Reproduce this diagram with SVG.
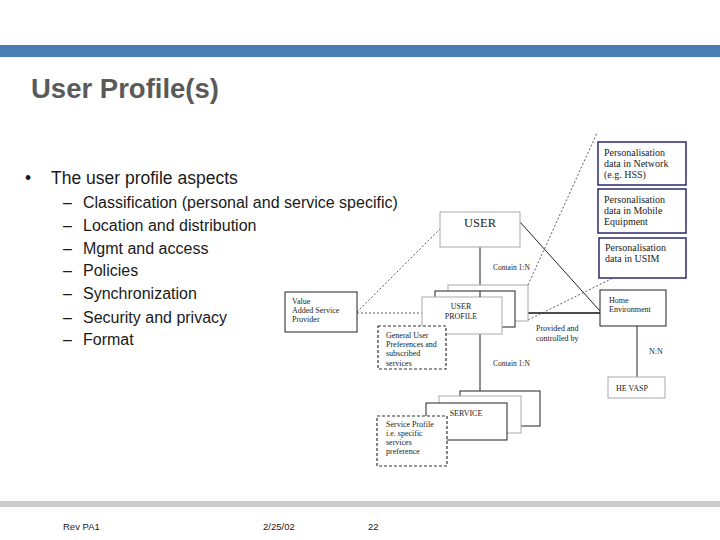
<svg xmlns="http://www.w3.org/2000/svg" width="720" height="540" viewBox="0 0 720 540">
<style>
.t{font-family:"Liberation Sans",Arial,sans-serif;fill:#1a1a1a}
.s{font-family:"Liberation Serif","Times New Roman",serif;fill:#222;font-size:8px}
.p{font-family:"Liberation Serif","Times New Roman",serif;fill:#222;font-size:10px}
.u{font-family:"Liberation Serif","Times New Roman",serif;fill:#222;font-size:12.5px}
.c{font-family:"Liberation Serif","Times New Roman",serif;fill:#222;font-size:7.5px}
.box{fill:#fff;stroke:#222;stroke-width:1}
.lbox{fill:#fff;stroke:#aaa;stroke-width:1}
.nbox{fill:#fff;stroke:#2a2a6e;stroke-width:1.5}
.dash{fill:#fff;stroke:#333;stroke-width:1.2;stroke-dasharray:3 2}
.dl{fill:none;stroke:#333;stroke-width:0.8;stroke-dasharray:2 2}
.sl{fill:none;stroke:#222;stroke-width:1}
</style>
<rect x="0" y="0" width="720" height="540" fill="#fff"/>
<rect x="0" y="45" width="720" height="12" fill="#4a7fb6"/>
<rect x="0" y="501" width="720" height="6" fill="#cccccc"/>
<text x="31" y="98" font-family="Liberation Sans,Arial,sans-serif" font-size="27.5" font-weight="bold" fill="#5a5a5a">User Profile(s)</text>
<g class="t" font-size="17.5">
<text x="25" y="184">•</text>
<text x="51" y="184">The user profile aspects</text>
</g>
<g class="t" font-size="16">
<text x="63" y="208">–</text><text x="83" y="208">Classification (personal and service specific)</text>
<text x="63" y="231">–</text><text x="83" y="231">Location and distribution</text>
<text x="63" y="254">–</text><text x="83" y="254">Mgmt and access</text>
<text x="63" y="276">–</text><text x="83" y="276">Policies</text>
<text x="63" y="299">–</text><text x="83" y="299">Synchronization</text>
<text x="63" y="323">–</text><text x="83" y="323">Security and privacy</text>
<text x="63" y="345">–</text><text x="83" y="345">Format</text>
</g>
<g class="t" font-size="9.5">
<text x="63" y="530">Rev PA1</text>
<text x="263" y="530">2/25/02</text>
<text x="368" y="530">22</text>
</g>
<g id="connectors">
<line class="sl" x1="480" y1="247" x2="480" y2="391"/>
<line class="sl" x1="520" y1="222" x2="600" y2="311"/>
<line x1="502" y1="313" x2="600" y2="313" stroke="#111" stroke-width="1.6"/>
<line class="sl" x1="637" y1="326" x2="637" y2="377"/>
<line class="dl" x1="357" y1="312" x2="443" y2="226"/>
<line class="dl" x1="357" y1="313" x2="422" y2="313"/>
<line class="dl" x1="528" y1="285" x2="597" y2="133"/>
<line class="dl" x1="528" y1="320" x2="613" y2="278"/>
<text class="c" x="493" y="270">Contain 1:N</text>
<text class="c" x="493" y="366">Contain 1:N</text>
<text class="s" x="536" y="331">Provided and</text>
<text class="s" x="536" y="341">controlled by</text>
<text class="s" x="649" y="354">N:N</text>
</g>
<g id="pers-network">
<rect class="nbox" x="598" y="142" width="88" height="43"/>
<text class="p" x="604" y="156">Personalisation</text>
<text class="p" x="604" y="167">data in Network</text>
<text class="p" x="604" y="178">(e.g. HSS)</text>
</g>
<g id="pers-me">
<rect class="nbox" x="598" y="189" width="88" height="44"/>
<text class="p" x="604" y="203">Personalisation</text>
<text class="p" x="604" y="214">data in Mobile</text>
<text class="p" x="604" y="225">Equipment</text>
</g>
<g id="pers-usim">
<rect class="nbox" x="599" y="238" width="87" height="40"/>
<text class="p" x="605" y="251">Personalisation</text>
<text class="p" x="605" y="262">data in USIM</text>
</g>
<g id="user">
<rect class="lbox" x="440" y="212" width="80" height="35" stroke="#888"/>
<text class="u" x="480" y="227" text-anchor="middle">USER</text>
</g>
<g id="user-profile">
<rect class="lbox" x="448" y="285" width="80" height="36"/>
<rect class="box" x="435" y="291" width="80" height="36"/>
<rect class="lbox" x="422" y="297" width="80" height="37"/>
<line class="sl" x1="480" y1="291" x2="480" y2="297"/>
<text class="s" x="461" y="309" text-anchor="middle">USER</text>
<text class="s" x="461" y="319" text-anchor="middle">PROFILE</text>
</g>
<g id="general-user">
<rect class="dash" x="378" y="326" width="68" height="43"/>
<text class="s" x="386" y="338">General User</text>
<text class="s" x="386" y="347">Preferences and</text>
<text class="s" x="386" y="356">subscribed</text>
<text class="s" x="386" y="366">services</text>
</g>
<g id="vasp">
<rect class="box" x="285" y="292" width="72" height="40" stroke="#555"/>
<text class="s" x="292" y="304">Value</text>
<text class="s" x="292" y="313">Added Service</text>
<text class="s" x="292" y="322">Provider</text>
</g>
<g id="home-env">
<rect class="box" x="600" y="290" width="66" height="36"/>
<text class="s" x="609" y="303">Home</text>
<text class="s" x="609" y="312">Environment</text>
</g>
<g id="he-vasp">
<rect class="lbox" x="608" y="377" width="57" height="21"/>
<text class="s" x="616" y="391">HE VASP</text>
</g>
<g id="service">
<rect class="box" x="460" y="391" width="80" height="35" stroke="#333"/>
<rect class="lbox" x="439" y="396" width="82" height="37" stroke="#999"/>
<rect class="box" x="426" y="403" width="81" height="37" stroke="#444"/>
<text class="s" x="466" y="416" text-anchor="middle">SERVICE</text>
</g>
<g id="service-profile">
<rect class="dash" x="377" y="416" width="70" height="50"/>
<text class="s" x="386" y="427">Service Profile</text>
<text class="s" x="386" y="436">i.e. specific</text>
<text class="s" x="386" y="445">services</text>
<text class="s" x="386" y="454">preference</text>
</g>
</svg>
